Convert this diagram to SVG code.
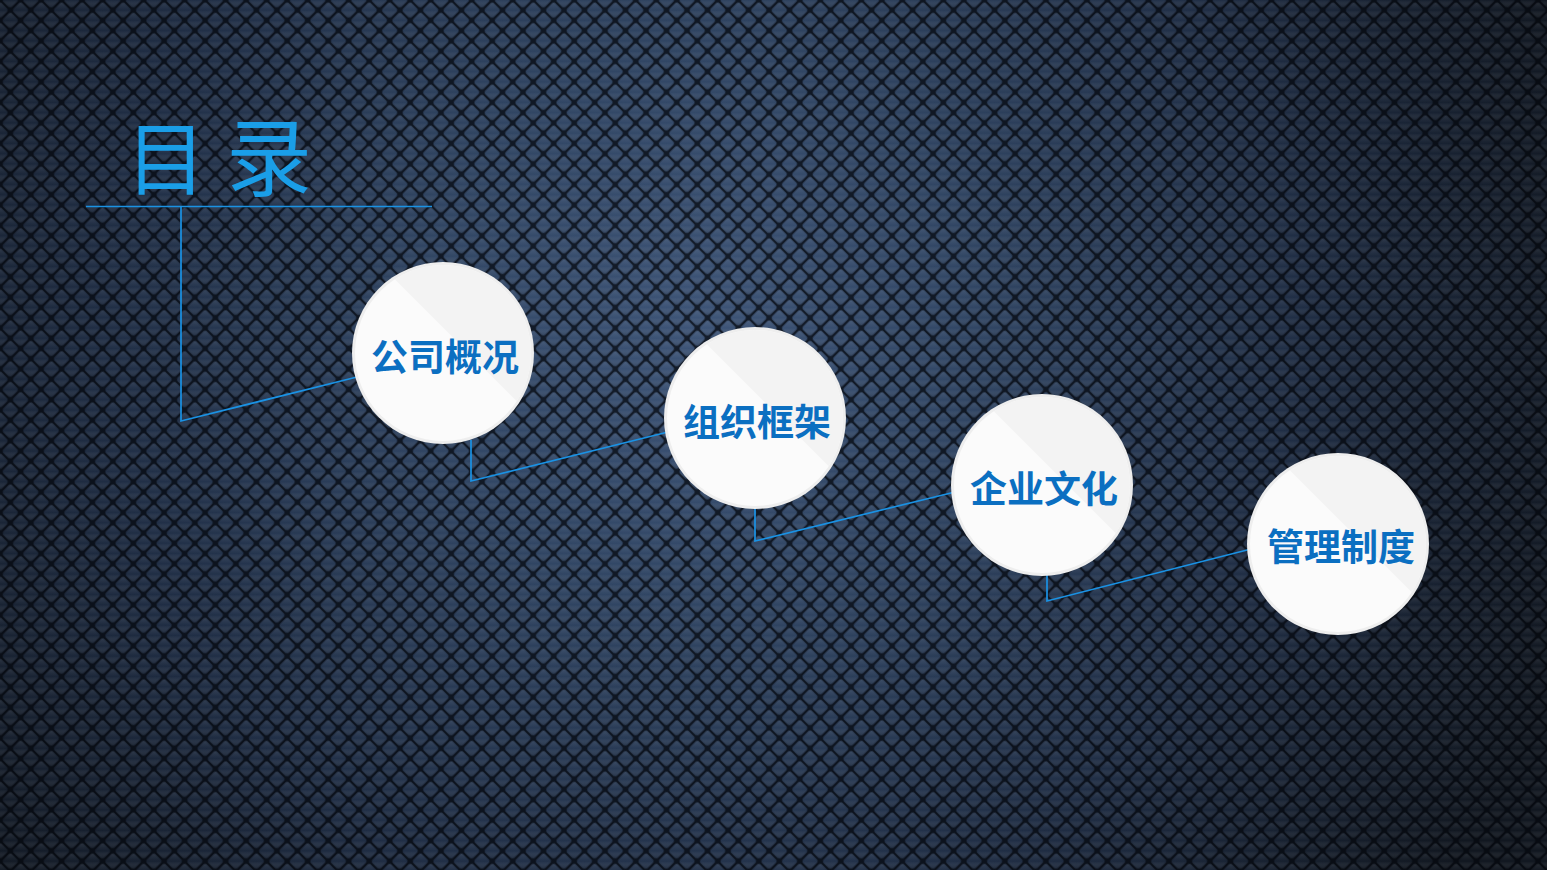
<svg xmlns="http://www.w3.org/2000/svg" width="1547" height="870" viewBox="0 0 1547 870">
<defs>
<radialGradient id="bg" cx="700" cy="330" r="920" gradientUnits="userSpaceOnUse">
<stop offset="0" stop-color="#3d5477"/>
<stop offset="0.3" stop-color="#304563"/>
<stop offset="0.65" stop-color="#1f2d44"/>
<stop offset="1" stop-color="#10161f"/>
</radialGradient>
<linearGradient id="tileg" x1="0" y1="0" x2="1" y2="1">
<stop offset="0" stop-color="#ffffff" stop-opacity="0.10"/>
<stop offset="0.5" stop-color="#ffffff" stop-opacity="0.0"/>
<stop offset="1" stop-color="#000000" stop-opacity="0.25"/>
</linearGradient>
<pattern id="weave2" width="14.5" height="14.5" patternUnits="userSpaceOnUse" patternTransform="rotate(45)">
<path d="M0,0H14.5V14.5H0Z M1.3,3.3V11.2A2,2 0 0 0 3.3,13.2H11.2A2,2 0 0 0 13.2,11.2V3.3A2,2 0 0 0 11.2,1.3H3.3A2,2 0 0 0 1.3,3.3Z" fill="#04070c" fill-opacity="0.72" fill-rule="evenodd"/>
<rect x="1.3" y="1.3" width="11.9" height="11.9" rx="2" fill="url(#tileg)"/>
</pattern>
<clipPath id="cc"><circle cx="0" cy="0" r="88"/></clipPath>
<style>
.ln{stroke:#1a92e4;stroke-width:1.7;fill:none}
.ring{fill:#eeeeee}
.in{fill:#fbfbfb}
.seg{fill:#f3f3f3}
.lbl{font-family:"Noto Sans CJK SC","Noto Sans",sans-serif;font-weight:bold;font-size:37px;fill:#0b6fc1;text-anchor:middle}
.title{font-family:"Noto Sans CJK SC","Noto Sans",sans-serif;font-weight:400;font-size:80px;fill:#1a9ee8}
</style>
<g id="disc">
<circle r="91" class="ring"/>
<circle r="88" class="in"/>
<polygon class="seg" clip-path="url(#cc)" points="-80,-105.5 105.5,80 200,-200"/>
</g>
</defs>
<rect width="1547" height="870" fill="url(#bg)"/>
<rect width="1547" height="870" fill="url(#weave2)"/>
<g id="title">
<text class="title" x="126" y="188">目 <tspan font-size="86" dx="2" dy="2">录</tspan></text>
</g>
<g id="connectors">
<line class="ln" x1="86" y1="206.5" x2="432" y2="206.5"/>
<polyline class="ln" points="181,206.5 181,421 357,377"/>
<polyline class="ln" points="471,440 471,481 668,432"/>
<polyline class="ln" points="755,505 755,541 955,492"/>
<polyline class="ln" points="1047,572 1047,601 1251,549"/>
</g>
<g id="node1" transform="translate(443,353)">
<use href="#disc"/>
<text class="lbl" x="2" y="18">公司概况</text>
</g>
<g id="node2" transform="translate(755,418)">
<use href="#disc"/>
<text class="lbl" x="2" y="18">组织框架</text>
</g>
<g id="node3" transform="translate(1042,485)">
<use href="#disc"/>
<text class="lbl" x="2" y="18">企业文化</text>
</g>
<g id="node4" transform="translate(1338,544)">
<use href="#disc"/>
<text class="lbl" x="3" y="17">管理制度</text>
</g>
</svg>
